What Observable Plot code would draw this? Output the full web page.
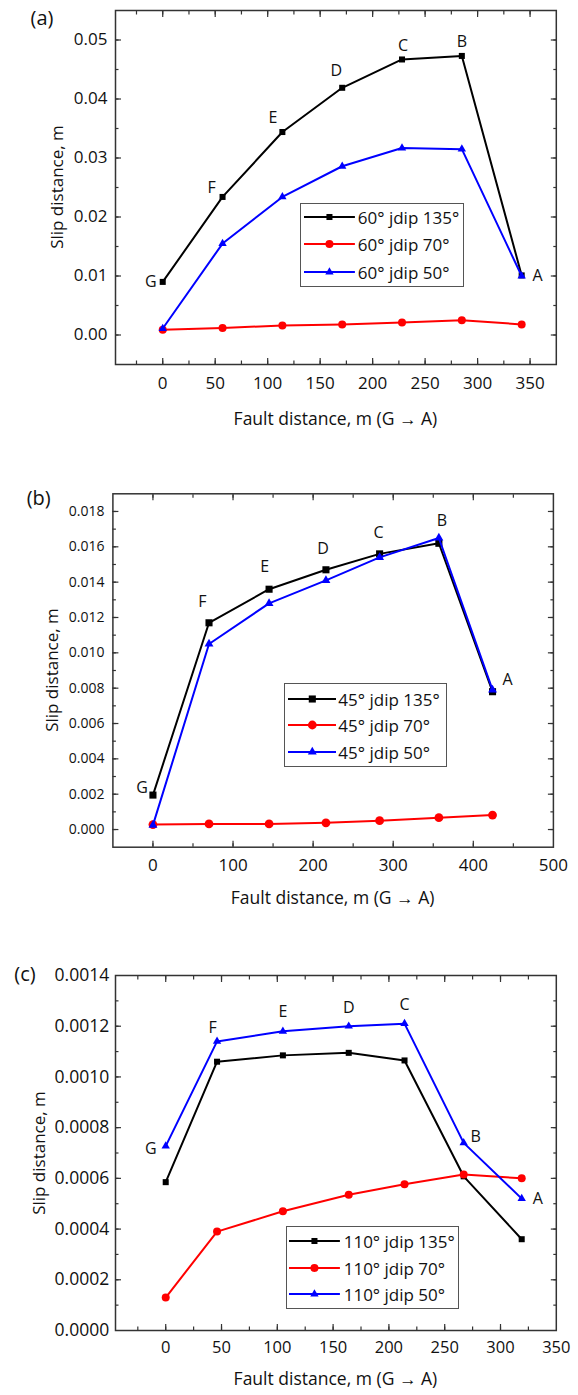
<!DOCTYPE html>
<html>
<head>
<meta charset="utf-8">
<script src="https://cdn.jsdelivr.net/npm/d3@7"></script>
<script src="https://cdn.jsdelivr.net/npm/@observablehq/plot@0.6"></script>
<style>
  html, body { margin: 0; padding: 0; background: #fff; }
  #root { position: relative; width: 578px; height: 1395px; background: #fff; font-family: 'Open Sans', sans-serif; color: #111; overflow: hidden; }
  .abs { position: absolute; white-space: nowrap; }
  .panel svg { display: block; }
  .legend { position: absolute; border: 1px solid #555; background: #fff; box-sizing: border-box; }
  .lrow { position: absolute; left: 0; width: 100%; height: 22px; }
  .lrow span { position: absolute; white-space: nowrap; line-height: 1; }
</style>
</head>
<body>
<div id="root"></div>
<script>
// ---------------- DATA ----------------
const pointLabels = ["G", "F", "E", "D", "C", "B", "A"];

// (a)
const xA = [0, 57, 114, 171, 228, 285, 342];
const a135 = [0.0090, 0.0234, 0.0344, 0.0419, 0.0467, 0.0473, 0.0101];
const a70  = [0.0009, 0.0012, 0.0016, 0.0018, 0.0021, 0.0025, 0.0018];
const a50  = [0.0011, 0.0155, 0.0234, 0.0286, 0.0317, 0.0315, 0.0100];
const namesA = ["60° jdip 135°", "60° jdip 70°", "60° jdip 50°"];
const xTicksA = [0, 50, 100, 150, 200, 250, 300, 350];
const yTicksA = [0, 0.01, 0.02, 0.03, 0.04, 0.05];

// (b)
const xB = [0, 70, 145, 216, 283, 357, 424];
const b135 = [0.00195, 0.0117, 0.0136, 0.0147, 0.0156, 0.0162, 0.0078];
const b70  = [0.00028, 0.00032, 0.00032, 0.00038, 0.0005, 0.00067, 0.00082];
const b50  = [0.00025, 0.0105, 0.0128, 0.0141, 0.0154, 0.0165, 0.0079];
const namesB = ["45° jdip 135°", "45° jdip 70°", "45° jdip 50°"];
const xTicksB = [0, 100, 200, 300, 400, 500];
const yTicksB = [0, 0.002, 0.004, 0.006, 0.008, 0.010, 0.012, 0.014, 0.016, 0.018];

// (c)
const xC = [0, 46, 105, 164, 214, 267, 319];
const c135 = [0.000585, 0.00106, 0.001085, 0.001095, 0.001065, 0.000608, 0.00036];
const c70  = [0.00013, 0.00039, 0.00047, 0.000535, 0.000577, 0.000615, 0.0006];
const c50  = [0.000727, 0.00114, 0.00118, 0.0012, 0.00121, 0.00074, 0.00052];
const namesC = ["110° jdip 135°", "110° jdip 70°", "110° jdip 50°"];
const xTicksC = [0, 50, 100, 150, 200, 250, 300, 350];
const yTicksC = [0, 0.0002, 0.0004, 0.0006, 0.0008, 0.0010, 0.0012, 0.0014];

const panelTags = ["(a)", "(b)", "(c)"];
const xTitle = "Fault distance, m (G \u2192 A)";
const yTitle = "Slip distance, m";

// ---------------- STYLE / LAYOUT ----------------
const seriesStyle = [
  {color: "#000000", symbol: "square"},
  {color: "#ff0000", symbol: "circle"},
  {color: "#0000ff", symbol: "triangle"}
];

const panels = [
  {
    tag: panelTags[0], x: xA, ys: [a135, a70, a50], names: namesA,
    top: 0, height: 440, margin: {top: 10, bottom: 76, left: 115, right: 22.2},
    xDomain: [-45, 375], yDomain: [-0.005, 0.055],
    xTicks: xTicksA, yTicks: yTicksA, xMinorStep: 25, yMinorStep: 0.005, yFmt: ".2f",
    yTickFont: 17, xTickFont: 17, xPad: 12.7, yPad: 8,
    r: [3.4, 4, 3.1],
    labelOff: [[-12, 0], [-11, -9], [-9.5, -14], [-6, -17], [1, -14], [0, -14], [16, 0]],
    tagPos: [42, 17], yTitlePos: [56, 187], xTitlePos: [335.4, 418.3],
    legend: {left: 300.4, top: 203, w: 163.3, h: 84, rows: [14, 41, 69], s0: 2.6, s1: 53.5, t: 56.4, font: 17}
  },
  {
    tag: panelTags[1], x: xB, ys: [b135, b70, b50], names: namesB,
    top: 440, height: 470, margin: {top: 53.3, bottom: 63.3, left: 112.4, right: 25.1},
    xDomain: [-50, 500], yDomain: [-0.001, 0.019],
    xTicks: xTicksB, yTicks: yTicksB, xMinorStep: 50, yMinorStep: 0.001, yFmt: ".3f",
    yTickFont: 14, xTickFont: 17, xPad: 11.6, yPad: 8.5,
    r: [4, 4.4, 3.3],
    labelOff: [[-11, -7], [-6.6, -21], [-4.5, -22], [-3, -21], [-1, -21], [3, -17.5], [15, -10]],
    tagPos: [38.7, 496.7], yTitlePos: [50.7, 670], xTitlePos: [332.6, 897],
    legend: {left: 283.8, top: 683.3, w: 163.3, h: 84, rows: [15.7, 41.7, 68.4], s0: 3, s1: 51.6, t: 53.5, font: 17}
  },
  {
    tag: panelTags[2], x: xC, ys: [c135, c70, c50], names: namesC,
    top: 910, height: 485, margin: {top: 65, bottom: 65, left: 115, right: 22.2},
    xDomain: [-45, 350], yDomain: [0, 0.0014],
    xTicks: xTicksC, yTicks: yTicksC, xMinorStep: 25, yMinorStep: 0.0001, yFmt: ".4f",
    yTickFont: 17.5, xTickFont: 16.5, xPad: 11, yPad: 6.3,
    r: [3.4, 4, 3.1],
    labelOff: [[-15, 3], [-4.5, -14], [0, -19], [0, -18], [0, -19], [12, -6], [16, 0]],
    tagPos: [25, 973], yTitlePos: [37.8, 1152.5], xTitlePos: [335.4, 1378],
    legend: {left: 285.7, top: 1226, w: 173.2, h: 83.3, rows: [14.7, 41.7, 68], s0: 2.5, s1: 53.4, t: 57, font: 17}
  }
];

const root = document.getElementById("root");
const FRAME = "#333";

function minorTicks(domain, step) {
  const out = [];
  const start = Math.ceil(domain[0] / step - 1e-9);
  const end = Math.floor(domain[1] / step + 1e-9);
  for (let k = start; k <= end; k++) out.push(+(k * step).toPrecision(10));
  return out;
}

panels.forEach((p) => {
  const rows = [];
  p.ys.forEach((vals, si) => p.x.forEach((x, i) => rows.push({x, y: vals[i], s: si, i})));
  const labelRows = p.x.map((x, i) => ({x, y: Math.max(p.ys[0][i], p.ys[2][i]), label: pointLabels[i]}));
  const xMinor = minorTicks(p.xDomain, p.xMinorStep).filter(v => v > p.xDomain[0] && v < p.xDomain[1]);
  const yMinor = minorTicks(p.yDomain, p.yMinorStep).filter(v => v > p.yDomain[0] + 1e-12 && v < p.yDomain[1] - 1e-12);
  const yMajorIn = p.yTicks.filter(v => v > p.yDomain[0] + 1e-12 && v < p.yDomain[1] - 1e-12);
  const xMajorIn = p.xTicks.filter(v => v > p.xDomain[0] && v < p.xDomain[1]);

  const marks = [];
  for (const anchor of ["bottom", "top"]) {
    marks.push(Plot.axisX(xMinor, {anchor, tickSize: -3.5, fill: "none", stroke: FRAME, strokeWidth: 1.2, label: null}));
    marks.push(Plot.axisX(xMajorIn, {anchor, tickSize: -6, fill: "none", stroke: FRAME, strokeWidth: 1.2, label: null}));
  }
  for (const anchor of ["left", "right"]) {
    marks.push(Plot.axisY(yMinor, {anchor, tickSize: -3.5, fill: "none", stroke: FRAME, strokeWidth: 1.2, label: null}));
    marks.push(Plot.axisY(yMajorIn, {anchor, tickSize: -6, fill: "none", stroke: FRAME, strokeWidth: 1.2, label: null}));
  }
  marks.push(Plot.axisX(p.xTicks, {anchor: "bottom", tickSize: 0, tickPadding: p.xPad, fontSize: p.xTickFont, fill: "#111", label: null, tickFormat: d3.format("d")}));
  marks.push(Plot.axisY(p.yTicks, {anchor: "left", tickSize: 0, tickPadding: p.yPad, fontSize: p.yTickFont, fill: "#111", label: null, tickFormat: d3.format(p.yFmt)}));
  marks.push(Plot.frame({stroke: FRAME, strokeWidth: 1.5}));

  p.ys.forEach((vals, si) => {
    const data = rows.filter(d => d.s === si);
    const st = seriesStyle[si];
    marks.push(Plot.line(data, {x: "x", y: "y", stroke: st.color, strokeWidth: 2}));
    marks.push(Plot.dot(data, {x: "x", y: "y", symbol: st.symbol, r: p.r[si], fill: st.color, stroke: "none"}));
  });

  labelRows.forEach((d, i) => {
    marks.push(Plot.text([d], {x: "x", y: "y", text: "label", dx: p.labelOff[i][0], dy: p.labelOff[i][1], fontSize: 16, fill: "#111", textAnchor: "middle", lineAnchor: "middle"}));
  });

  const svg = Plot.plot({
    width: 578,
    height: p.height,
    marginTop: p.margin.top,
    marginBottom: p.margin.bottom,
    marginLeft: p.margin.left,
    marginRight: p.margin.right,
    style: {fontFamily: "'Open Sans', sans-serif", background: "transparent", overflow: "visible"},
    x: {domain: p.xDomain},
    y: {domain: p.yDomain},
    marks
  });

  const holder = document.createElement("div");
  holder.className = "panel abs";
  holder.style.left = "0px";
  holder.style.top = p.top + "px";
  holder.appendChild(svg);
  root.appendChild(holder);

  const tag = document.createElement("div");
  tag.className = "abs";
  tag.textContent = p.tag;
  tag.style.fontSize = "20px";
  tag.style.left = p.tagPos[0] + "px";
  tag.style.top = p.tagPos[1] + "px";
  tag.style.transform = "translate(-50%, -50%)";
  root.appendChild(tag);

  const xt = document.createElement("div");
  xt.className = "abs";
  xt.textContent = xTitle;
  xt.style.fontSize = "17.5px";
  xt.style.left = p.xTitlePos[0] + "px";
  xt.style.top = p.xTitlePos[1] + "px";
  xt.style.transform = "translate(-50%, -50%)";
  root.appendChild(xt);

  const yt = document.createElement("div");
  yt.className = "abs";
  yt.textContent = yTitle;
  yt.style.fontSize = "17px";
  yt.style.left = p.yTitlePos[0] + "px";
  yt.style.top = p.yTitlePos[1] + "px";
  yt.style.transform = "translate(-50%, -50%) rotate(-90deg)";
  root.appendChild(yt);

  const L = p.legend;
  const lg = document.createElement("div");
  lg.className = "legend";
  lg.style.left = L.left + "px";
  lg.style.top = L.top + "px";
  lg.style.width = L.w + "px";
  lg.style.height = L.h + "px";
  p.names.forEach((name, si) => {
    const st = seriesStyle[si];
    const row = document.createElement("div");
    row.className = "lrow";
    row.style.top = (L.rows[si] - 11 - 1) + "px";
    const w = L.s1 - L.s0;
    const cx = w / 2;
    const r = p.r[si];
    let sym;
    if (st.symbol === "square") {
      const s = r * Math.sqrt(Math.PI);
      sym = `<rect x="${cx - s / 2}" y="${11 - s / 2}" width="${s}" height="${s}" fill="${st.color}"/>`;
    } else if (st.symbol === "circle") {
      sym = `<circle cx="${cx}" cy="11" r="${r}" fill="${st.color}"/>`;
    } else {
      const path = d3.symbol(d3.symbolTriangle, Math.PI * r * r)();
      sym = `<path transform="translate(${cx},11)" d="${path}" fill="${st.color}"/>`;
    }
    row.innerHTML = `<svg width="${w}" height="22" style="position:absolute;left:${L.s0}px;top:0"><line x1="0" x2="${w}" y1="11" y2="11" stroke="${st.color}" stroke-width="2"/>${sym}</svg>` +
      `<span style="left:${L.t}px;top:11px;transform:translateY(-50%);font-size:${L.font}px;">${name}</span>`;
    lg.appendChild(row);
  });
  root.appendChild(lg);
});
</script>
</body>
</html>
